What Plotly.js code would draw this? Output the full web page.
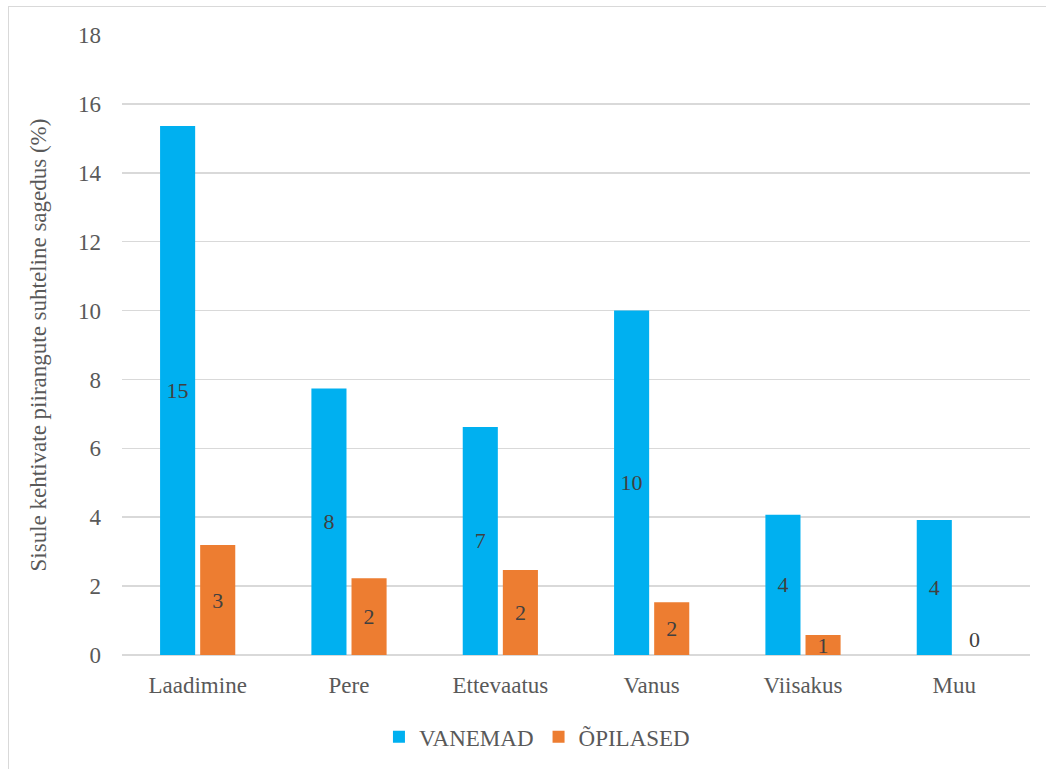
<!DOCTYPE html>
<html>
<head>
<meta charset="utf-8">
<script src="https://cdn.plot.ly/plotly-3.0.1.min.js"></script>
<style>
html,body{margin:0;padding:0;background:#fff;}
#frame{position:absolute;left:8px;top:6px;width:1038px;height:763px;border-left:1px solid #d9d9d9;border-top:1px solid #d9d9d9;pointer-events:none;}
#chart{width:1046px;height:769px;}
</style>
</head>
<body>
<div id="chart"></div>
<div id="frame"></div>
<script>
const categories = ["Laadimine", "Pere", "Ettevaatus", "Vanus", "Viisakus", "Muu"];
const vanemad = [15.36, 7.74, 6.62, 10.0, 4.07, 3.92];
const opilased = [3.19, 2.23, 2.47, 1.53, 0.58, 0];
const seriesNames = ["VANEMAD", "ÕPILASED"];
const yTicks = [0, 2, 4, 6, 8, 10, 12, 14, 16, 18];

const font = "Times New Roman, Liberation Serif, serif";
const labelColor = "#404040";

function mk(name, vals, color) {
  return {
    type: "bar",
    name: name,
    x: categories,
    y: vals,
    marker: {color: color},
    text: vals.map(v => String(Math.round(v))),
    textposition: vals.map(v => v === 0 ? "outside" : "inside"),
    insidetextanchor: "middle",
    textangle: 0,
    constraintext: "none",
    cliponaxis: false,
    textfont: {family: font, size: 22, color: labelColor},
    insidetextfont: {family: font, size: 22, color: labelColor},
    outsidetextfont: {family: font, size: 22, color: labelColor},
    hoverinfo: "none"
  };
}

const data = [
  mk(seriesNames[0], vanemad, "#00B0F0"),
  mk(seriesNames[1], opilased, "#ED7D31")
];

const layout = {
  width: 1046, height: 769,
  margin: {l: 122, r: 16, t: 35, b: 113},
  paper_bgcolor: "#fff", plot_bgcolor: "#fff",
  barmode: "group",
  bargap: 0.47,
  bargroupgap: 0.125,
  font: {family: font, color: "#595959"},
  showlegend: true,
  legend: {
    orientation: "h", x: 0.457, xanchor: "center", y: -0.13, yanchor: "middle",
    font: {family: font, size: 23, color: "#595959"},
    itemwidth: 30
  },
  xaxis: {
    showgrid: false, zeroline: false, showline: false,
    ticks: "", ticklabelstandoff: 14,
    tickfont: {family: font, size: 23, color: "#595959"}
  },
  yaxis: {
    range: [0, 18], tickvals: yTicks, ticktext: yTicks.map(String),
    showgrid: true, gridcolor: "#d9d9d9", gridwidth: 1.5,
    zeroline: true, zerolinecolor: "#d9d9d9", zerolinewidth: 1.5,
    showline: false, ticks: "", ticklabelstandoff: 20,
    tickfont: {family: font, size: 23, color: "#595959"},
    title: {text: "Sisule kehtivate piirangute suhteline sagedus (%)", standoff: 24,
      font: {family: font, size: 23, color: "#595959"}}
  }
};

Plotly.newPlot("chart", data, layout, {displayModeBar: false, staticPlot: true});
</script>
</body>
</html>
